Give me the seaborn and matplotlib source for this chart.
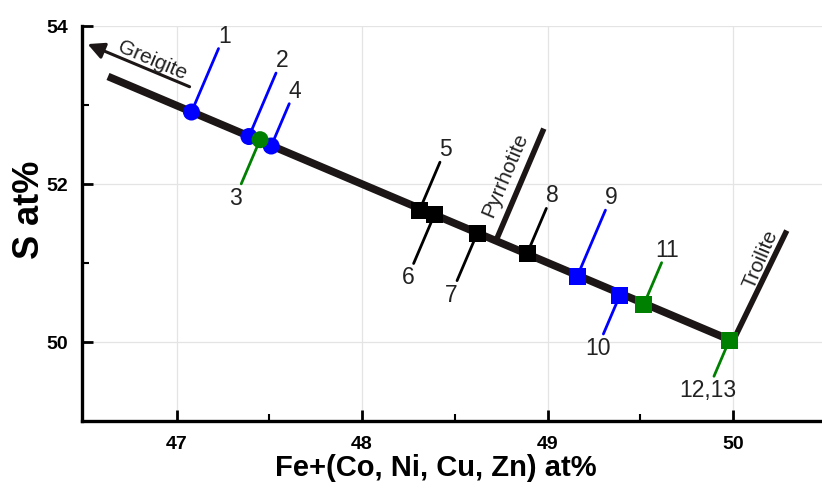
import numpy as np
import pandas as pd
import matplotlib
matplotlib.use('Agg')
import matplotlib.pyplot as plt
import seaborn as sns

# ==========================
# Data
# ==========================
sample_labels = ['1', '2', '3', '4', '5', '6', '7', '8', '9', '10', '11', '12,13']
fe_at = [47.08, 47.39, 47.45, 47.51, 48.31, 48.39, 48.62, 48.89, 49.16, 49.39, 49.52, 49.98]
s_at = [52.91, 52.60, 52.56, 52.48, 51.67, 51.61, 51.37, 51.12, 50.83, 50.59, 50.48, 50.02]
groups = ['blue', 'blue', 'green', 'blue', 'black', 'black', 'black', 'black',
          'blue', 'blue', 'green', 'green']
shapes = ['circle'] * 4 + ['square'] * 8
# leader side (+1 up-right, -1 down-left) and length in px
leader_side = [1, 1, -1, 1, 1, -1, -1, 1, 1, -1, 1, -1]
leader_len = [69, 69, 48, 46, 52, 53, 51, 49, 72, 42, 45, 39]

trend_x = [46.63, 50.0]
trend_y = [53.36, 50.01]
pyrrhotite_x = [48.72, 48.98]
pyrrhotite_y = [51.27, 52.70]
troilite_x = [50.0, 50.29]
troilite_y = [50.01, 51.41]
greigite_from = (47.07, 53.23)
greigite_to = (46.52, 53.77)

# ==========================
# Style
# ==========================
sns.set_style('ticks')
plt.rcParams['font.family'] = ['Liberation Sans', 'DejaVu Sans']

palette = {'blue': '#0000ff', 'green': '#008000', 'black': '#000000'}
marker_map = {'circle': 'o', 'square': 's'}
line_col = '#1c1616'
text_col = '#222222'

df = pd.DataFrame({'fe': fe_at, 's': s_at, 'group': groups, 'shape': shapes,
                   'label': sample_labels, 'side': leader_side, 'len': leader_len})
# green markers sit on top
draw_df = df.iloc[np.argsort((df['group'] == 'green').values, kind='stable')]

fig = plt.figure(figsize=(8.22, 4.89), dpi=100)
ax = fig.add_axes([0.0998, 0.137, 0.9002, 0.808])
ax.set_xlim(46.49, 50.48)
ax.set_ylim(49.0, 54.0)

ax.grid(True, which='major', color='#e4e4e4', lw=0.9, zorder=0)
ax.set_axisbelow(True)

sns.lineplot(x=trend_x, y=trend_y, ax=ax, color=line_col, lw=5.5, zorder=3,
             solid_capstyle='butt')
ax.plot(pyrrhotite_x, pyrrhotite_y, color=line_col, lw=4, zorder=3, solid_capstyle='butt')
ax.plot(troilite_x, troilite_y, color=line_col, lw=4, zorder=3, solid_capstyle='butt')
ax.annotate('', xy=greigite_to, xytext=greigite_from,
            arrowprops=dict(arrowstyle='-|>,head_length=1.0,head_width=0.5',
                            color=line_col, lw=2.2, shrinkA=0, shrinkB=0))

# leader lines + numbers
ang = np.deg2rad(23.1)
ux, uy = np.sin(ang), np.cos(ang)
for _, r in df.iterrows():
    c = palette[r['group']]
    d = r['side']
    L = r['len'] * 0.72
    ax.annotate('', xy=(r['fe'], r['s']), xytext=(d * ux * L, d * uy * L),
                textcoords='offset points',
                arrowprops=dict(arrowstyle='-', color=c, lw=2.0, shrinkA=0, shrinkB=0),
                zorder=2)
    T = L + 10.5
    ax.annotate(r['label'], xy=(r['fe'], r['s']), xytext=(d * ux * T, d * uy * T),
                textcoords='offset points', ha='center', va='center',
                fontsize=16.5, color=text_col)

sns.scatterplot(data=draw_df, x='fe', y='s', hue='group', style='shape',
                palette=palette, markers=marker_map, s=150, linewidth=0,
                ax=ax, legend=False, zorder=4)

ax.text(46.87, 53.58, 'Greigite', rotation=-23.1, ha='center', va='center',
        fontsize=15, color=text_col, rotation_mode='anchor')
ax.text(48.77, 52.13, 'Pyrrhotite', rotation=66.9, ha='center', va='center',
        fontsize=15, color=text_col, rotation_mode='anchor')
ax.text(50.15, 51.06, 'Troilite', rotation=66.9, ha='center', va='center',
        fontsize=15, color=text_col, rotation_mode='anchor')

# axes
ax.set_xticks([47, 48, 49, 50])
ax.set_xticks([47.5, 48.5, 49.5], minor=True)
ax.set_yticks([50, 52, 54])
ax.set_yticks([51, 53], minor=True)
ax.tick_params(which='major', direction='in', length=8, width=2, pad=10,
               labelsize=14, colors='black')
ax.tick_params(which='minor', direction='in', length=5, width=1.5, colors='black')
for lab in ax.get_xticklabels() + ax.get_yticklabels():
    lab.set_fontweight('bold')

sns.despine(ax=ax)
for sp in ['left', 'bottom']:
    ax.spines[sp].set_linewidth(2.4)
    ax.spines[sp].set_color('black')

ax.set_xlabel('Fe+(Co, Ni, Cu, Zn) at%', fontsize=21, fontweight='bold', color='black')
ax.set_ylabel('S at%', fontsize=26, fontweight='bold', color='black')
ax.xaxis.set_label_coords(0.478, -0.082)
ax.yaxis.set_label_coords(-0.047, 0.537)

fig.savefig('out.png', dpi=100)
